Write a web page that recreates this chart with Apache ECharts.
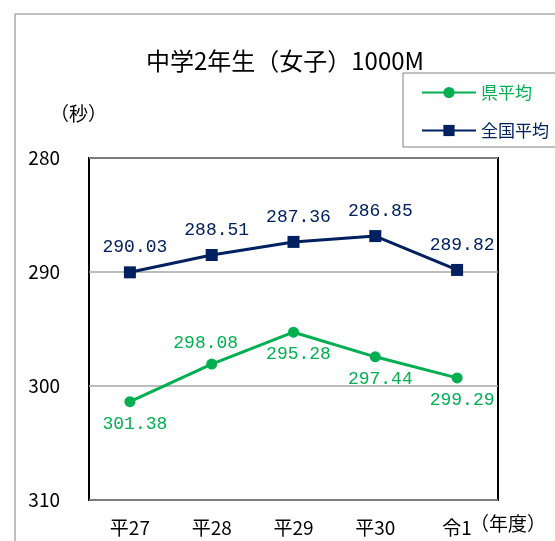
<!DOCTYPE html>
<html><head><meta charset="utf-8">
<script src="https://cdn.jsdelivr.net/npm/echarts@6/dist/echarts.min.js"></script>
<style>html,body{margin:0;padding:0;background:#fff}#c{width:555px;height:541px}</style>
</head><body><div id="c"></div>
<script>
const categories = ['平27', '平28', '平29', '平30', '令1'];
const prefValues = [301.38, 298.08, 295.28, 297.44, 299.29];
const natValues = [290.03, 288.51, 287.36, 286.85, 289.82];
const prefLabelPos = ['bottom', 'top', 'bottom', 'bottom', 'bottom'];
const yTicks = [280, 290, 300, 310];

const GREEN = '#00B050', NAVY = '#002060';
const labelFont = 'Liberation Mono, DejaVu Sans Mono, monospace';
const cjk = '"Noto Sans CJK JP", sans-serif';

const chart = echarts.init(document.getElementById('c'), null, {renderer: 'canvas'});
chart.setOption({
  animation: false,
  backgroundColor: '#fff',
  title: {
    text: '中学2年生（女子）1000M',
    left: 280, textAlign: 'center', top: 44,
    textStyle: {fontFamily: cjk, fontSize: 24, fontWeight: 'normal', color: '#000'}
  },
  graphic: [
    {type: 'rect', shape: {x: 15, y: 14, width: 700, height: 700}, style: {fill: 'none', stroke: '#808080', lineWidth: 1}, silent: true, z: -10},
    {type: 'rect', shape: {x: 403, y: 73, width: 200, height: 74}, style: {fill: '#fff', stroke: '#808080', lineWidth: 1}, silent: true, z: -5},
    {type: 'text', left: 50, top: 104, style: {text: '（秒）', font: '19px "Noto Sans CJK JP"', fill: '#000'}},
    {type: 'text', left: 470, top: 514, style: {text: '（年度）', font: '19px "Noto Sans CJK JP"', fill: '#000'}}
  ],
  legend: {
    orient: 'vertical', left: 416, top: 79,
    itemWidth: 54, itemHeight: 14, itemGap: 21,
    data: [
      {name: '県平均', textStyle: {color: GREEN}},
      {name: '全国平均', textStyle: {color: NAVY}}
    ],
    textStyle: {fontFamily: cjk, fontSize: 17}
  },
  grid: {left: 89, right: 57, top: 158, bottom: 41, show: true, borderColor: '#000', borderWidth: 2, containLabel: false},
  xAxis: {
    type: 'category', data: categories, boundaryGap: true,
    axisLine: {show: false}, axisTick: {show: false},
    axisLabel: {margin: 18, fontFamily: cjk, fontSize: 19, color: '#000'}
  },
  yAxis: {
    type: 'value', inverse: true, min: 280, max: 310, interval: 10,
    axisLine: {show: false}, axisTick: {show: false},
    axisLabel: {margin: 29, fontFamily: cjk, fontSize: 19, color: '#000',
      formatter: v => yTicks.includes(v) ? String(v) : ''},
    splitLine: {show: true, lineStyle: {color: '#A6A6A6', width: 1.5}}
  },
  series: [
    {
      name: '県平均', type: 'line', data: prefValues.map((v, i) => ({
        value: v,
        label: {position: prefLabelPos[i], distance: prefLabelPos[i] === 'top' ? 6 : 8, offset: [i === 1 ? -6 : 5, 0]}
      })),
      symbol: 'circle', symbolSize: 11,
      lineStyle: {color: GREEN, width: 3}, itemStyle: {color: GREEN},
      label: {show: true, formatter: p => p.value.toFixed(2), color: GREEN, fontFamily: labelFont, fontSize: 18}
    },
    {
      name: '全国平均', type: 'line', data: natValues,
      symbol: 'rect', symbolSize: 12,
      lineStyle: {color: NAVY, width: 3}, itemStyle: {color: NAVY},
      label: {show: true, position: 'top', distance: 10, offset: [5, 0], formatter: p => p.value.toFixed(2), color: NAVY, fontFamily: labelFont, fontSize: 18}
    }
  ]
});
</script></body></html>
